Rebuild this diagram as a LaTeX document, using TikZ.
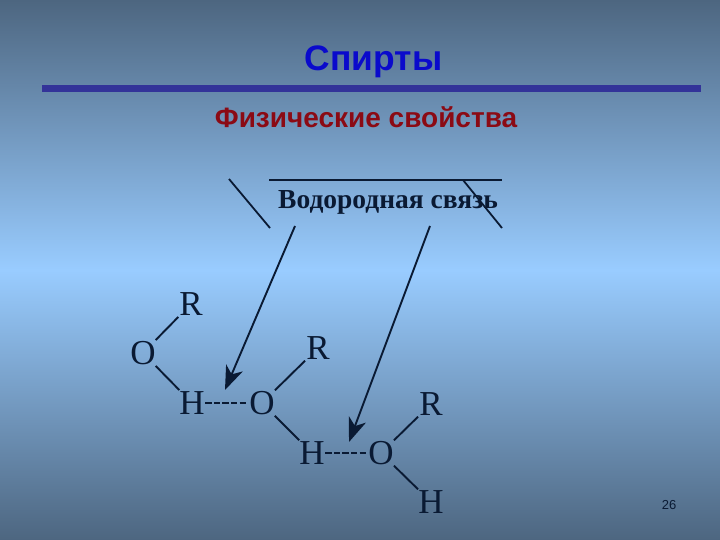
\documentclass[tikz,border=0pt]{standalone}
\usepackage{fontspec}
\setmainfont{Liberation Serif}
\newfontfamily\arialf{Liberation Sans}
\usetikzlibrary{arrows.meta}
\definecolor{bgedge}{HTML}{4D6680}
\definecolor{bgmid}{HTML}{99CCFF}
\definecolor{ink}{HTML}{0A1A33}
\definecolor{ttl}{HTML}{0A0ACC}
\definecolor{sub}{HTML}{8B0A14}
\definecolor{rulec}{HTML}{333399}
\tikzset{
  atom/.style={circle,inner sep=0pt,minimum size=36pt,text=ink,font=\fontsize{35}{35}\selectfont},
  bond/.style={draw=ink,line width=1.9pt},
  hbond/.style={draw=ink,line width=2pt,dash pattern=on 6.4pt off 2.2pt,shorten <=-5pt,shorten >=-4pt},
  pointer/.style={draw=ink,line width=1.9pt,-{Stealth[length=24pt,width=18pt,inset=7pt]}},
  deco/.style={draw=ink,line width=1.8pt}
}
\begin{document}
\begin{tikzpicture}[x=1pt,y=-1pt]
\useasboundingbox (0,0) rectangle (720,540);
\shade[top color=bgedge,bottom color=bgedge,middle color=bgmid] (0,0) rectangle (720,540);
\node (title) at (373.5,62) [text=ttl,font=\arialf\bfseries\fontsize{35.4}{35}\selectfont] {Спирты};
\fill[rulec] (42,85) rectangle (701,92);
\node (subt) at (366,117) [text=sub,font=\arialf\bfseries\fontsize{28}{28}\selectfont] {Физические свойства};
\node (lbl) at (388,202) [text=ink,font=\bfseries\fontsize{27.5}{27.5}\selectfont] {Водородная связь};
\draw[deco] (229,179) -- (270,228);
\draw[deco] (269,180) -- (502,180);
\draw[deco] (463,180) -- (502,228);
\node[atom] (R1) at (191,304) {R};
\node[atom] (O1) at (143,353) {O};
\node[atom] (H1) at (192,403) {H};
\node[atom] (O2) at (262,403) {O};
\node[atom] (R2) at (318,348) {R};
\node[atom] (H2) at (312,453) {H};
\node[atom] (O3) at (381,453) {O};
\node[atom] (R3) at (431,404) {R};
\node[atom] (H3) at (431,502) {H};
\draw[bond] (O1) -- (R1);
\draw[bond] (O1) -- (H1);
\draw[bond] (O2) -- (R2);
\draw[bond] (O2) -- (H2);
\draw[bond] (O3) -- (R3);
\draw[bond] (O3) -- (H3);
\draw[hbond] (H1) -- (O2);
\draw[hbond] (H2) -- (O3);
\coordinate (a1s) at (295,226);
\coordinate (a1e) at (225,390);
\coordinate (a2s) at (430,226);
\coordinate (a2e) at (349,442);
\draw[pointer] (a1s) -- (a1e);
\draw[pointer] (a2s) -- (a2e);
\node (pg) at (669,505) [text=ink,font=\arialf\fontsize{13}{13}\selectfont] {26};
\end{tikzpicture}
\end{document}
